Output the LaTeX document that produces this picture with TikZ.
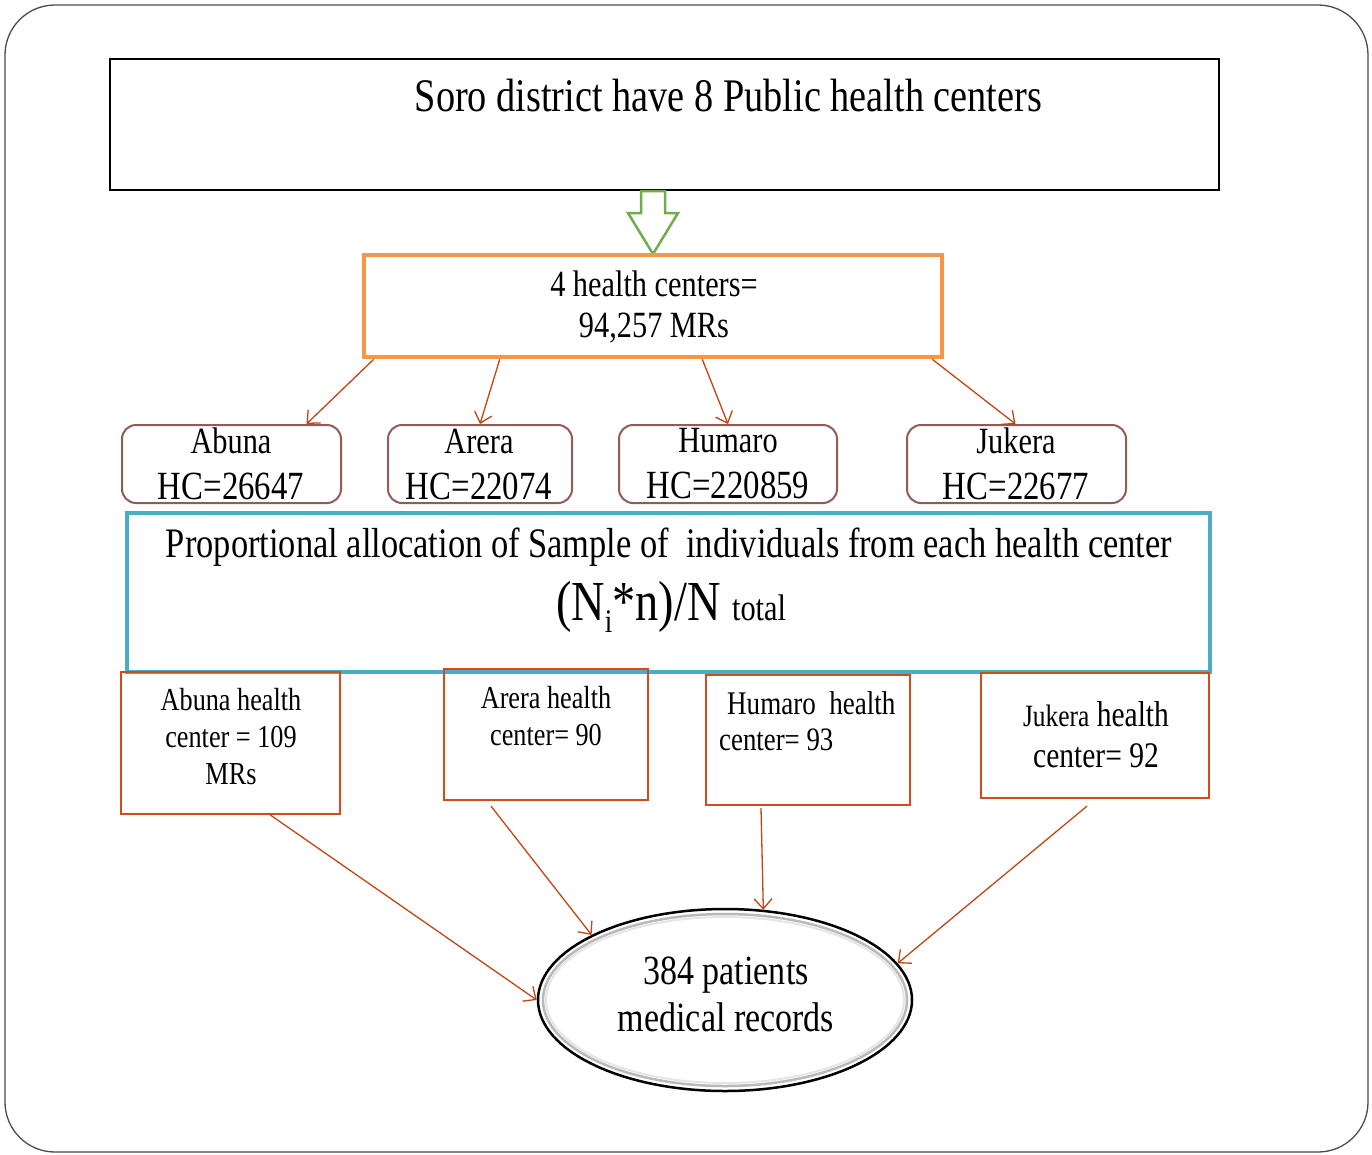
\documentclass[tikz,border=0pt]{standalone}
\usepackage{fontspec}
\setmainfont{Liberation Serif}[FakeStretch=0.82]
\usetikzlibrary{shapes.geometric,arrows.meta}

\definecolor{arrowgreen}{RGB}{112,173,71}
\definecolor{hcorange}{RGB}{247,150,70}
\definecolor{hcbrown}{RGB}{145,92,88}
\definecolor{propblue}{RGB}{75,172,198}
\definecolor{countred}{RGB}{210,75,30}
\definecolor{linkred}{RGB}{192,70,20}

\tikzset{
  txt/.style={inner sep=0pt, align=center},
  plainbox/.style={draw=black, line width=2pt, inner sep=0pt},
  orangebox/.style={draw=hcorange, line width=4.5pt, inner sep=0pt},
  hcbox/.style={draw=hcbrown, line width=2pt, rounded corners=14pt, inner sep=0pt},
  propbox/.style={draw=propblue, line width=4.5pt, inner sep=0pt},
  countbox/.style={draw=countred, line width=2.2pt, inner sep=0pt},
  link/.style={draw=linkred, line width=1.3pt, -{Straight Barb[length=10pt,width=18pt]}}
}

\begin{document}
\begin{tikzpicture}[x=1pt, y=-1pt]
    \useasboundingbox (0,0) rectangle (1372,1154);
    % Frame
    \draw[gray!60!black, line width=1.3pt, rounded corners=50pt] (5,5) rectangle (1368,1152);

    % District
    \node[plainbox, minimum width=1109pt, minimum height=131pt] (soro) at (664.5,124.5) {};
    \node[txt, font=\fontsize{46.7}{52}\selectfont] (sorotext) at (728.5,96) {Soro district have 8 Public health centers};
    \draw[arrowgreen, line width=2.5pt, fill=white, line join=miter]
        (641,191) -- (665,191) -- (665,213) -- (678,213) -- (653,254) -- (628,213) -- (641,213) -- cycle;

    % Selected health centers
    \node[orangebox, minimum width=578pt, minimum height=102pt] (fourhc) at (653,306) {};
    \node[txt, font=\fontsize{37}{41}\selectfont] (fourhctext) at (654,307) {4 health centers=\\94,257 MRs};

    \node[hcbox, minimum width=219pt, minimum height=78pt] (abuna) at (231.5,464) {};
    \node[hcbox, minimum width=184pt, minimum height=78pt] (arera) at (480,464) {};
    \node[hcbox, minimum width=218pt, minimum height=78pt] (humaro) at (728,464) {};
    \node[hcbox, minimum width=219pt, minimum height=78pt] (jukera) at (1016.5,464) {};
    \node[txt, font=\fontsize{40}{46}\selectfont] (abunatext) at (231,464) {{\fontsize{37}{46}\selectfont Abuna}\\HC=26647};
    \node[txt, font=\fontsize{40}{46}\selectfont] (areratext) at (479,464) {{\fontsize{37}{46}\selectfont Arera}\\HC=22074};
    \node[txt, font=\fontsize{40}{46}\selectfont] (humarotext) at (728,464) {{\fontsize{37}{46}\selectfont Humaro}\\HC=220859};
    \node[txt, font=\fontsize{40}{46}\selectfont] (jukeratext) at (1016,464) {{\fontsize{37}{46}\selectfont Jukera}\\HC=22677};

    \draw[link] ([xshift=12pt]fourhc.south west) -- ([xshift=75pt]abuna.north);
    \draw[link] ([xshift=138pt]fourhc.south west) -- (arera.north);
    \draw[link] ([xshift=-242pt]fourhc.south east) -- (humaro.north);
    \draw[link] ([xshift=-12pt]fourhc.south east) -- ([xshift=-1pt]jukera.north);

    % Allocation
    \node[propbox, minimum width=1083pt, minimum height=159pt] (prop) at (668.5,592.5) {};
    \node[txt, font=\fontsize{42}{46}\selectfont] (proptext) at (669,547) {Proportional allocation of Sample of\ \ individuals from each health center};
    \node[txt, anchor=base, font=\fontsize{56.5}{60}\selectfont] (formula) at (671,620)
        {(N\raisebox{-12pt}{\fontsize{33}{33}\selectfont i}*n)/N {\fontsize{37}{40}\selectfont total}};

    % Sample per health center
    \node[countbox, minimum width=219pt, minimum height=142pt] (abunan) at (230.5,743) {};
    \node[countbox, minimum width=204pt, minimum height=131pt] (areran) at (546,734.5) {};
    \node[countbox, minimum width=204pt, minimum height=130pt] (humaron) at (808,740) {};
    \node[countbox, minimum width=228pt, minimum height=125pt] (jukeran) at (1095,735.5) {};
    \node[txt, font=\fontsize{32}{37}\selectfont] (abunantext) at (231,737) {Abuna health\\center = 109\\MRs};
    \node[txt, font=\fontsize{32}{37}\selectfont] (arerantext) at (546,716) {Arera health\\center= 90};
    \node[txt, anchor=west, font=\fontsize{33}{37}\selectfont] (humarontop) at (727,703) {Humaro\ \ health};
    \node[txt, anchor=west, font=\fontsize{32.7}{37}\selectfont] (humaronbot) at (719,740) {center= 93};
    \node[txt, font=\fontsize{36}{41}\selectfont] (jukerantext) at (1096,735) {{\fontsize{31}{41}\selectfont Jukera} health\\center= 92};

    % Records
    \node[draw=black, line width=2.5pt, ellipse, minimum width=374pt, minimum height=182pt, inner sep=0pt] (records) at (725,1000) {};
    \draw[gray!55, line width=2.5pt] (records.center) ellipse [x radius=182pt, y radius=86pt];
    \draw[gray!20, line width=2pt] (records.center) ellipse [x radius=179pt, y radius=83pt];
    \node[txt, font=\fontsize{41.5}{47}\selectfont] (recordstext) at (726,994) {384 patients\\medical records};

    \draw[link] ([xshift=40pt]abunan.south) -- (records.180);
    \draw[link] ([xshift=-55pt, yshift=-5pt]areran.south) -- (records.154);
    \draw[link] ([xshift=-47pt, yshift=-2pt]humaron.south) -- (records.67);
    \draw[link] ([xshift=-8pt, yshift=-7pt]jukeran.south) -- (records.12);
\end{tikzpicture}
\end{document}
